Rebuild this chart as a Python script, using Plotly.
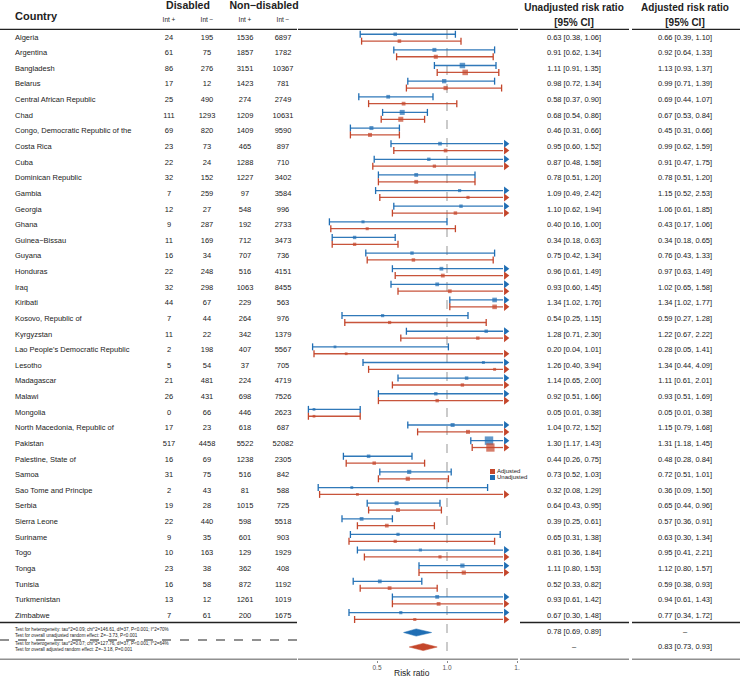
import math
import plotly.graph_objects as go

# ---------------- data ----------------
countries = [
    "Algeria", "Argentina", "Bangladesh", "Belarus", "Central African Republic", "Chad",
    "Congo, Democratic Republic of the", "Costa Rica", "Cuba", "Dominican Republic", "Gambia",
    "Georgia", "Ghana", "Guinea\u2212Bissau", "Guyana", "Honduras", "Iraq", "Kiribati",
    "Kosovo, Republic of", "Kyrgyzstan", "Lao People's Democratic Republic", "Lesotho",
    "Madagascar", "Malawi", "Mongolia", "North Macedonia, Republic of", "Pakistan",
    "Palestine, State of", "Samoa", "Sao Tome and Principe", "Serbia", "Sierra Leone",
    "Suriname", "Togo", "Tonga", "Tunisia", "Turkmenistan", "Zimbabwe",
]
dis_pos = [24, 61, 86, 17, 25, 111, 69, 23, 22, 32, 7, 12, 9, 11, 16, 22, 32, 44, 7, 11, 2, 5,
           21, 26, 0, 17, 517, 16, 31, 2, 19, 22, 9, 10, 23, 16, 13, 7]
dis_neg = [195, 75, 276, 12, 490, 1293, 820, 73, 24, 152, 259, 27, 287, 169, 34, 248, 298, 67,
           44, 22, 198, 54, 481, 431, 66, 23, 4458, 69, 75, 43, 28, 440, 35, 163, 38, 58, 12, 61]
non_pos = [1536, 1857, 3151, 1423, 274, 1209, 1409, 465, 1288, 1227, 97, 548, 192, 712, 707,
           516, 1063, 229, 264, 342, 407, 37, 224, 698, 446, 618, 5522, 1238, 516, 81, 1015,
           598, 601, 129, 362, 872, 1261, 200]
non_neg = [6897, 1782, 10367, 781, 2749, 10631, 9590, 897, 710, 3402, 3584, 996, 2733, 3473,
           736, 4151, 8455, 563, 976, 1379, 5567, 705, 4719, 7526, 2623, 687, 52082, 2305, 842,
           588, 725, 5518, 903, 1929, 408, 1192, 1019, 1675]

unadj_est = [0.63, 0.91, 1.11, 0.98, 0.58, 0.68, 0.46, 0.95, 0.87, 0.78, 1.09, 1.10, 0.40, 0.34,
             0.75, 0.96, 0.93, 1.34, 0.54, 1.28, 0.20, 1.26, 1.14, 0.92, 0.05, 1.04, 1.30, 0.44,
             0.73, 0.32, 0.64, 0.39, 0.65, 0.81, 1.11, 0.52, 0.93, 0.67]
unadj_lo = [0.38, 0.62, 0.91, 0.72, 0.37, 0.54, 0.31, 0.60, 0.48, 0.51, 0.49, 0.62, 0.16, 0.18,
            0.42, 0.61, 0.60, 1.02, 0.25, 0.71, 0.04, 0.40, 0.65, 0.51, 0.01, 0.72, 1.17, 0.26,
            0.52, 0.08, 0.43, 0.25, 0.31, 0.36, 0.80, 0.33, 0.61, 0.30]
unadj_hi = [1.06, 1.34, 1.35, 1.34, 0.90, 0.86, 0.66, 1.52, 1.58, 1.20, 2.42, 1.94, 1.00, 0.63,
            1.34, 1.49, 1.45, 1.76, 1.15, 2.30, 1.01, 3.94, 2.00, 1.66, 0.38, 1.52, 1.43, 0.75,
            1.03, 1.29, 0.95, 0.61, 1.38, 1.84, 1.53, 0.82, 1.42, 1.48]
adj_est = [0.66, 0.92, 1.13, 0.99, 0.69, 0.67, 0.45, 0.99, 0.91, 0.78, 1.15, 1.06, 0.43, 0.34,
           0.76, 0.97, 1.02, 1.34, 0.59, 1.22, 0.28, 1.34, 1.11, 0.93, 0.05, 1.15, 1.31, 0.48,
           0.72, 0.36, 0.65, 0.57, 0.63, 0.95, 1.12, 0.59, 0.94, 0.77]
adj_lo = [0.39, 0.64, 0.93, 0.71, 0.44, 0.53, 0.31, 0.62, 0.47, 0.51, 0.52, 0.61, 0.17, 0.18,
          0.43, 0.63, 0.65, 1.02, 0.27, 0.67, 0.05, 0.44, 0.61, 0.51, 0.01, 0.79, 1.18, 0.28,
          0.51, 0.09, 0.44, 0.36, 0.30, 0.41, 0.80, 0.38, 0.61, 0.34]
adj_hi = [1.10, 1.33, 1.37, 1.39, 1.07, 0.84, 0.66, 1.59, 1.75, 1.20, 2.53, 1.85, 1.06, 0.65,
          1.33, 1.49, 1.58, 1.77, 1.28, 2.22, 1.41, 4.09, 2.01, 1.69, 0.38, 1.68, 1.45, 0.84,
          1.01, 1.50, 0.96, 0.91, 1.34, 2.21, 1.57, 0.93, 1.43, 1.72]

pooled_unadj = [0.78, 0.69, 0.89]
pooled_adj = [0.83, 0.73, 0.93]

footnotes = [
    "Test for heterogeneity: tau^2=0.09; chi^2=146.61, df=37, P<0.001; I^2=70%",
    "Test for overall unadjusted random effect: Z=\u22123.73, P<0.001",
    "Test for heterogeneity: tau^2=0.07; chi^2=127.76, df=37, P<0.001; I^2=64%",
    "Test for overall adjusted random effect: Z=\u22123.18, P=0.001",
]
x_tickvals = [0.5, 1.0, 1.5]
x_ticktext = ["0.5", "1.0", "1."]

# ---------------- layout helpers ----------------
W, H = 740, 677
ROW0, ROWH = 37.7, 15.63
AX_BOTTOM = 659.5
FONT = "Liberation Sans, Arial, sans-serif"
BLUE = "#1F6EB4"
RED = "#C4462B"
CLIP = 1.40
ARROW = 1.42
OFF = 0.22


def py(px):
    return (px - ROW0) / ROWH


Y_TOP = py(0)
Y_BOT = py(AX_BOTTOM)

fig = go.Figure()


def msize(lo, hi):
    se = (math.log(hi) - math.log(lo)) / 3.92
    return min(8.5, 2.4 + 0.31 * math.sqrt(1.0 / se ** 2))


def forest(est, lo, hi, color, off):
    lx, ly, cx, cy, ax, ay = [], [], [], [], [], []
    sizes = []
    ys = []
    for i, (e, l, h) in enumerate(zip(est, lo, hi)):
        y = i + off
        ys.append(y)
        lx += [l, min(h, CLIP), None]
        ly += [y, y, None]
        cx.append(l)
        cy.append(y)
        if h > CLIP:
            ax.append(ARROW)
            ay.append(y)
        else:
            cx.append(h)
            cy.append(y)
        sizes.append(msize(l, h))
    fig.add_trace(go.Scatter(x=lx, y=ly, mode="lines", line=dict(color=color, width=1.3),
                             opacity=0.92, hoverinfo="skip", showlegend=False))
    fig.add_trace(go.Scatter(x=cx, y=cy, mode="markers",
                             marker=dict(symbol="line-ns", size=5, line=dict(color=color, width=1.3)),
                             hoverinfo="skip", showlegend=False))
    fig.add_trace(go.Scatter(x=ax, y=ay, mode="markers",
                             marker=dict(symbol="triangle-right", size=7, color=color),
                             hoverinfo="skip", showlegend=False, cliponaxis=False))
    fig.add_trace(go.Scatter(x=est, y=ys, mode="markers",
                             marker=dict(symbol="square", size=sizes, color=color, line=dict(width=0)),
                             hoverinfo="skip", showlegend=False))


forest(unadj_est, unadj_lo, unadj_hi, BLUE, -OFF)
forest(adj_est, adj_lo, adj_hi, RED, OFF)


def diamond(vals, y, color):
    e, l, h = vals
    d = 3.6 / ROWH
    fig.add_trace(go.Scatter(x=[l, e, h, e, l], y=[y, y - d, y, y + d, y], mode="lines",
                             fill="toself", fillcolor=color, line=dict(color=color, width=0.5),
                             hoverinfo="skip", showlegend=False))


Y_SUM_U = py(632.5)
Y_SUM_A = py(647)
diamond(pooled_unadj, Y_SUM_U, BLUE)
diamond(pooled_adj, Y_SUM_A, RED)

n = len(countries)
rows = list(range(n))


def text_col(xpx, ys, texts, size=7.5, pos="middle center", color="#222", bold=False):
    fig.add_trace(go.Scatter(
        x=[xpx] * len(ys), y=ys, text=[f"<b>{t}</b>" if bold else str(t) for t in texts],
        mode="text", textposition=pos, xaxis="x2",
        textfont=dict(family=FONT, size=size, color=color),
        hoverinfo="skip", showlegend=False, cliponaxis=False))


# table
text_col(15, rows, countries, pos="middle right")
text_col(169, rows, dis_pos)
text_col(207, rows, dis_neg)
text_col(245, rows, non_pos)
text_col(283, rows, non_neg)
text_col(574, rows, [f"{e:.2f} [{l:.2f}, {h:.2f}]" for e, l, h in zip(unadj_est, unadj_lo, unadj_hi)])
text_col(685, rows, [f"{e:.2f} [{l:.2f}, {h:.2f}]" for e, l, h in zip(adj_est, adj_lo, adj_hi)])

# headers
text_col(15, [py(17)], ["Country"], size=11, pos="middle right", bold=True)
text_col(188, [py(6)], ["Disabled"], size=10.5, bold=True)
text_col(264, [py(6)], ["Non\u2212disabled"], size=10.5, bold=True)
text_col(169, [py(20)], ["Int +"], size=6.5)
text_col(207, [py(20)], ["Int \u2212"], size=6.5)
text_col(245, [py(20)], ["Int +"], size=6.5)
text_col(283, [py(20)], ["Int \u2212"], size=6.5)
text_col(574, [py(8)], ["Unadjusted risk ratio"], size=10, bold=True)
text_col(574, [py(23)], ["[95% CI]"], size=10, bold=True)
text_col(685, [py(8)], ["Adjusted risk ratio"], size=10, bold=True)
text_col(685, [py(23)], ["[95% CI]"], size=10, bold=True)

# summary rows
text_col(574, [Y_SUM_U], ["{:.2f} [{:.2f}, {:.2f}]".format(*pooled_unadj)])
text_col(685, [Y_SUM_U], ["\u2013"])
text_col(574, [Y_SUM_A], ["\u2013"])
text_col(685, [Y_SUM_A], ["{:.2f} [{:.2f}, {:.2f}]".format(*pooled_adj)])
text_col(15, [py(629.5), py(635.5), py(644), py(650)], footnotes, size=4.6, pos="middle right")

# legend
fig.add_trace(go.Scatter(x=[492.5, 492.5], y=[py(471.5), py(477.5)], mode="markers", xaxis="x2",
                         marker=dict(symbol="square", size=5, color=[RED, BLUE]),
                         hoverinfo="skip", showlegend=False, cliponaxis=False))
text_col(497, [py(471.5), py(477.5)], ["Adjusted", "Unadjusted"], size=6, pos="middle right")

# lines
shapes = []
segs_all = [(0, 297), (298, 518), (520, 629), (632, 740)]
for a, b in segs_all:
    shapes.append(dict(type="line", xref="x2", yref="y", x0=a, x1=b, y0=py(29.3), y1=py(29.3),
                       line=dict(color="#222", width=1.3)))
    shapes.append(dict(type="line", xref="x2", yref="y", x0=a, x1=b, y0=Y_BOT, y1=Y_BOT,
                       line=dict(color="#222", width=1.3)))
for a, b in [(0, 297), (520, 629), (632, 740)]:
    shapes.append(dict(type="line", xref="x2", yref="y", x0=a, x1=b, y0=py(622.5), y1=py(622.5),
                       line=dict(color="#222", width=1.3)))
shapes.append(dict(type="line", xref="x2", yref="y", x0=0, x1=297, y0=py(640), y1=py(640),
                   line=dict(color="#222", width=1.2, dash="dash")))
shapes.append(dict(type="line", xref="x", yref="y", x0=1, x1=1, y0=py(30), y1=py(656),
                   line=dict(color="#A0A0A0", width=1.1, dash="dash"), layer="below"))

fig.update_layout(
    width=W, height=H, margin=dict(l=0, r=0, t=0, b=0),
    paper_bgcolor="white", plot_bgcolor="rgba(0,0,0,0)",
    showlegend=False, shapes=shapes,
    xaxis=dict(domain=[307 / W, 517 / W], range=[0, 1.5], tickvals=x_tickvals, ticktext=x_ticktext,
               showgrid=False, zeroline=False, showline=False, ticks="outside", ticklen=2,
               tickcolor="#888", tickfont=dict(family=FONT, size=6.5, color="#555"),
               anchor="y", automargin=False, fixedrange=True),
    xaxis2=dict(domain=[0, 1], range=[0, W], visible=False, anchor="y", fixedrange=True),
    yaxis=dict(domain=[(H - AX_BOTTOM) / H, 1], range=[Y_BOT, Y_TOP], visible=False,
               fixedrange=True),
    annotations=[dict(text="Risk ratio", xref="paper", yref="paper", x=412 / W, y=(H - 673) / H,
                      showarrow=False, font=dict(family=FONT, size=8.5, color="#222"),
                      xanchor="center", yanchor="middle")],
)

fig.write_html("out.html", config={"displayModeBar": False},
               post_script="document.body.style.margin='0';document.body.style.overflow='hidden';")
